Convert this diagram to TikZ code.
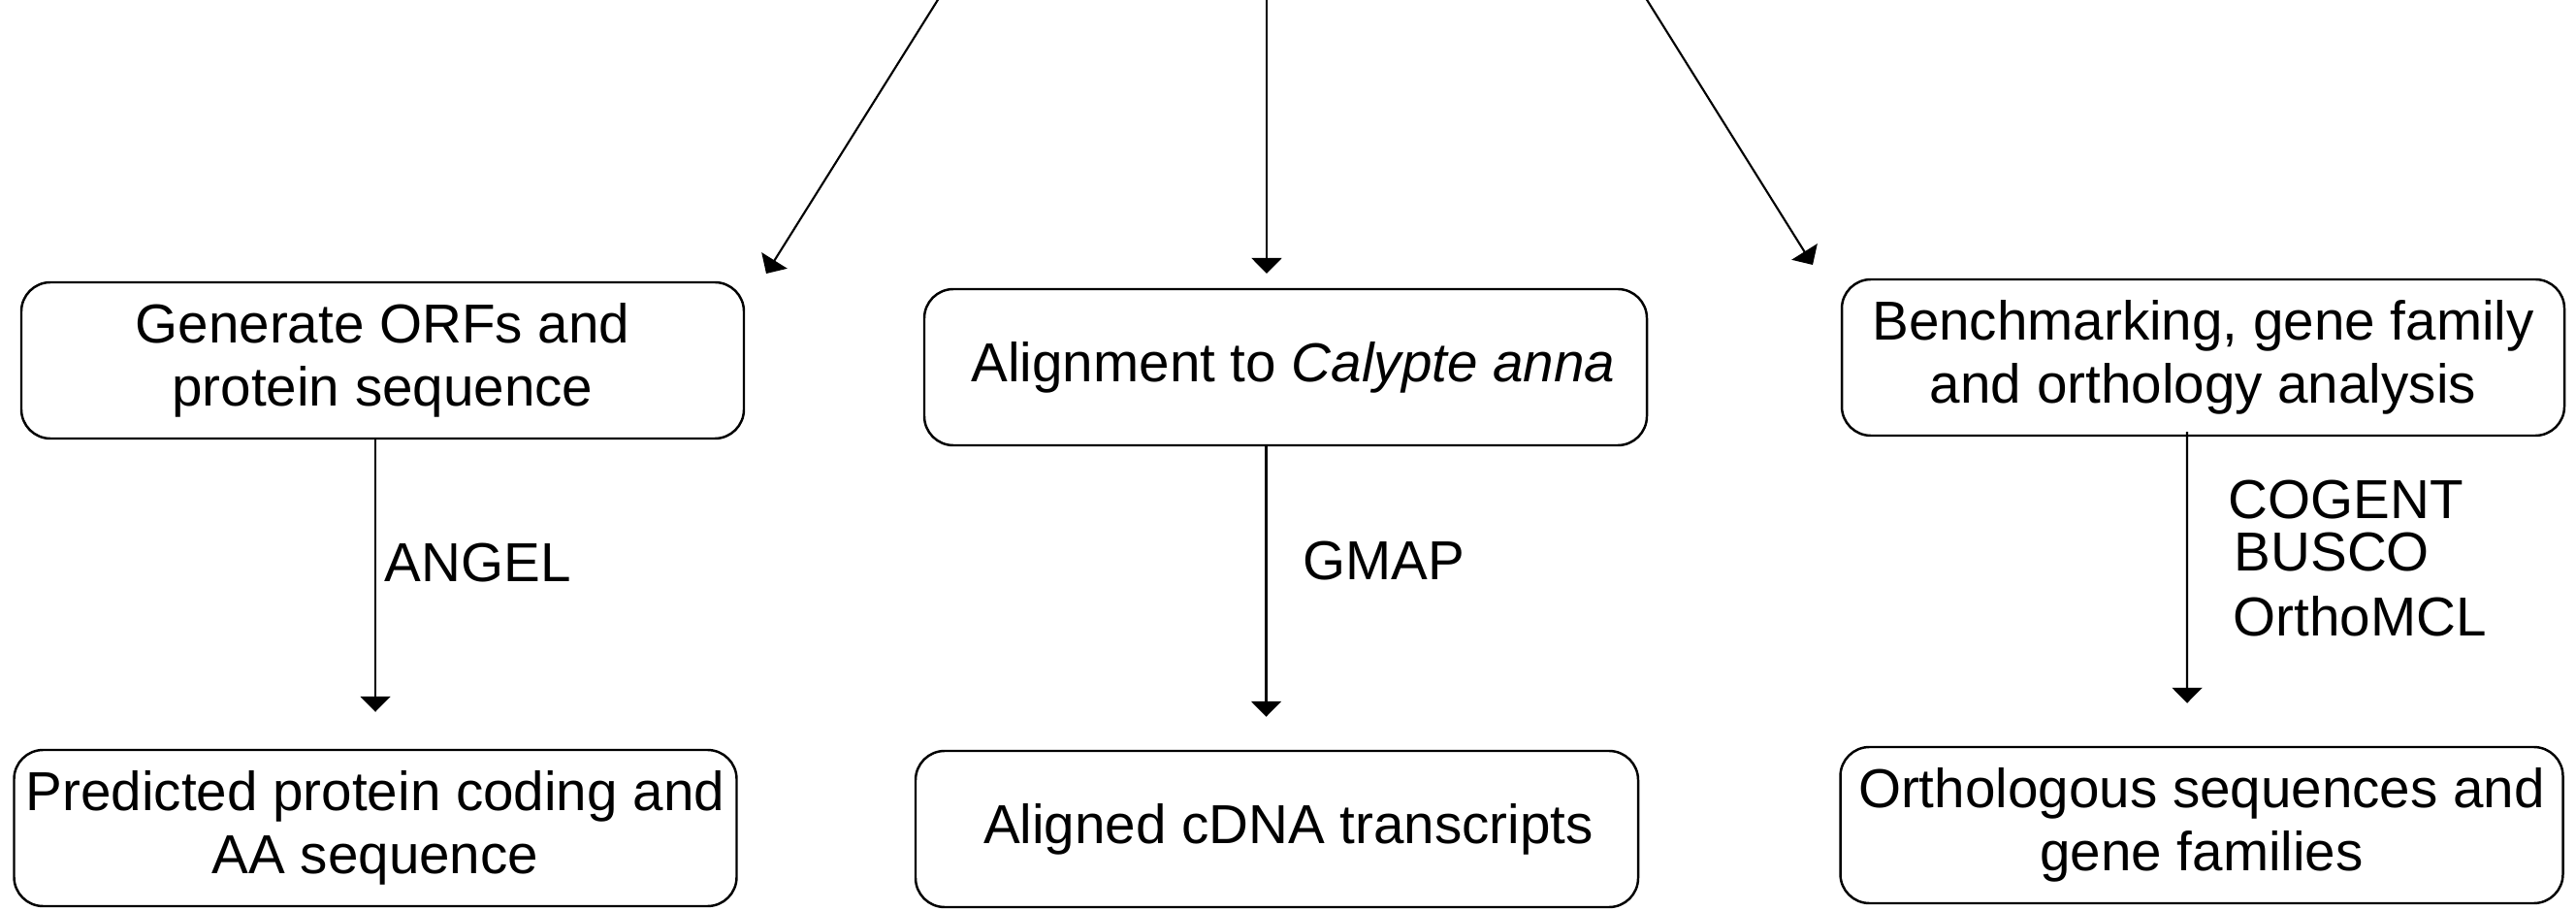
\documentclass[tikz,border=0pt]{standalone}
\usepackage{fontspec}
\setmainfont{Liberation Sans}
\usetikzlibrary{arrows.meta}

\tikzset{
  stepbox/.style={draw, line width=0.7pt, rounded corners=0.3cm, align=center,
    minimum width=7.45cm, minimum height=1.61cm, inner sep=2pt,
    font=\fontsize{16.1}{18.7}\selectfont},
  tool/.style={anchor=base west, inner sep=0pt, font=\fontsize{16.1}{18.7}\selectfont},
  arr/.style={-{Triangle[length=1.6mm,width=3.1mm]}, line width=0.6pt}
}

\begin{document}
\begin{tikzpicture}
  \useasboundingbox (0,0) rectangle (26.56,-9.39);

  % upper row
  \node[stepbox] (b1) at (3.945,-3.715) {Generate ORFs and\\protein sequence};
  \node[stepbox] (b2) at (13.255,-3.785) {\hspace*{0.16cm}Alignment to \textit{Calypte anna}};
  \node[stepbox] (b3) at (22.715,-3.685) {Benchmarking, gene family\\and orthology analysis};

  % lower row
  \node[stepbox] (b4) at (3.87,-8.535) {Predicted protein coding and\\AA sequence};
  \node[stepbox] (b5) at (13.165,-8.545) {\hspace*{0.24cm}Aligned cDNA transcripts};
  \node[stepbox] (b6) at (22.70,-8.505) {Orthologous sequences and\\gene families};

  % tools
  \node[tool] (angel) at (3.96,-5.99) {ANGEL};
  \node[tool] (gmap) at (13.43,-5.98) {GMAP};
  \node[tool] (cogent) at (22.97,-5.35) {COGENT};
  \node[tool] (busco) at (23.03,-5.89) {BUSCO};
  \node[tool] (orthomcl) at (23.02,-6.56) {OrthoMCL};

  % arrows from above
  \coordinate (s1) at (9.70,0.05);
  \coordinate (e1) at (7.90,-2.82);
  \coordinate (s2) at (13.06,0.05);
  \coordinate (e2) at (13.06,-2.82);
  \coordinate (s3) at (16.95,0.05);
  \coordinate (e3) at (18.69,-2.73);
  \draw[arr] (s1) -- (e1);
  \draw[arr] (s2) -- (e2);
  \draw[arr] (s3) -- (e3);

  % down the columns
  \draw[arr] (b1.south -| b4.north) -- ([yshift=3.8mm]b4.north);
  \draw[arr] ([xshift=-2mm]b2.south) -- ([xshift=-2mm,yshift=3.4mm]b2.south |- b5.north);
  \draw[arr] ([xshift=-1.65mm,yshift=0.5mm]b3.south) -- ([xshift=-1.5mm,yshift=4.4mm]b6.north);
\end{tikzpicture}
\end{document}
